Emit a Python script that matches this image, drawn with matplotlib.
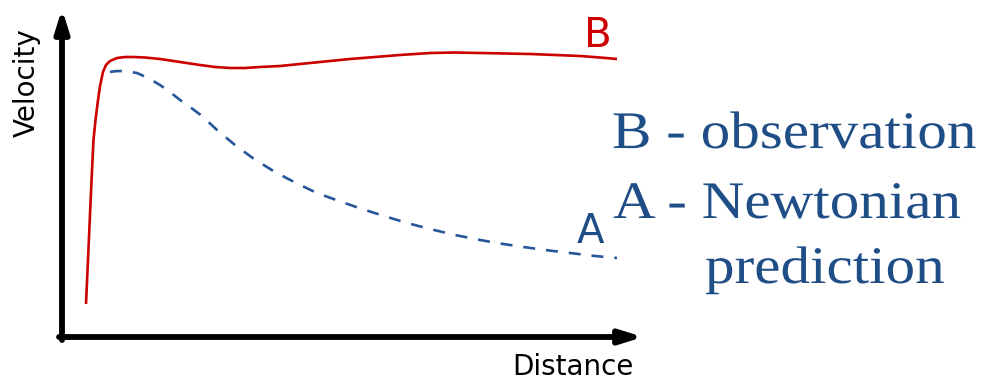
#!/usr/bin/env python3

"""Galaxy rotation curve sketch: observed vs. Newtonian predicted velocity."""

import matplotlib
matplotlib.use("Agg")
from matplotlib import pyplot as plt
from matplotlib import patheffects
from matplotlib.transforms import Affine2D

distance_b = [0.411, 0.445, 0.479, 0.514, 0.539, 0.574, 0.608, 0.651, 0.702, 0.753,
              0.822, 0.942, 1.079, 1.216, 1.421, 1.678, 2.021, 2.363, 2.620, 2.877,
              3.134, 3.390, 3.733, 4.075, 4.503, 4.932, 5.360, 5.788, 6.301, 6.729,
              7.158, 7.586, 8.014, 8.442, 8.870, 9.212, 9.503]
velocity_b = [0.997, 2.326, 3.686, 5.045, 5.952, 6.556, 7.039, 7.583, 8.006, 8.218,
              8.338, 8.429, 8.459, 8.459, 8.444, 8.399, 8.308, 8.218, 8.157, 8.127,
              8.127, 8.157, 8.187, 8.248, 8.323, 8.399, 8.459, 8.520, 8.580, 8.595,
              8.580, 8.565, 8.550, 8.520, 8.489, 8.444, 8.399]

# curve A - Newtonian prediction
distance_a = [0.822, 0.908, 0.993, 1.130, 1.284, 1.473, 1.678, 1.849, 2.021, 2.192,
              2.397, 2.654, 2.962, 3.288, 3.647, 4.007, 4.366, 4.743, 5.137, 5.514,
              5.908, 6.301, 6.729, 7.158, 7.500, 7.842, 8.271, 8.699, 9.127, 9.503]
velocity_a = [8.006, 8.030, 8.036, 8.021, 7.976, 7.825, 7.613, 7.402, 7.160, 6.949,
              6.677, 6.254, 5.801, 5.378, 4.985, 4.653, 4.350, 4.109, 3.867, 3.656,
              3.444, 3.263, 3.082, 2.931, 2.825, 2.734, 2.628, 2.538, 2.447, 2.387]

legend_lines = ["B - observation", "A - Newtonian", "prediction"]

RED = "#cc0000"
BLUE = "#27579a"
TEXT_BLUE = "#1f4e87"

W, H = 990, 382


class Stretch(patheffects.AbstractPathEffect):
    """Stretch text glyphs horizontally (the original slide text is widened)."""

    def __init__(self, sx):
        super().__init__()
        self.sx = sx

    def draw_path(self, renderer, gc, tpath, affine, rgbFace=None):
        renderer.draw_path(gc, tpath, Affine2D().scale(self.sx, 1) + affine, rgbFace)


def px(x, y):
    """pixel position (from top left) -> figure fraction"""
    return x / W, 1 - y / H


plt.rcParams["lines.scale_dashes"] = False

fig = plt.figure(figsize=(W / 100, H / 100), dpi=100)
ax = fig.add_axes([62 / W, 45 / H, 584 / W, 331 / H])
ax.set_xlim(0, 10)
ax.set_ylim(0, 10)
ax.axis("off")

ax.plot(distance_b, velocity_b, color=RED, lw=1.9, solid_joinstyle="round",
        solid_capstyle="butt")
ax.plot(distance_a, velocity_a, color=BLUE, lw=1.9, linestyle=(0, (8.6, 7.9)),
        dash_capstyle="butt", dash_joinstyle="round")

# axis arrows
arrow = dict(arrowstyle="-|>,head_length=1.32,head_width=0.41", mutation_scale=10,
             lw=4.2, color="black", shrinkA=0, shrinkB=0)
ax.annotate("", xy=(0, 1 - 2.8 / 331), xytext=(0, -3 / 331),
            xycoords="axes fraction", arrowprops=arrow)
ax.annotate("", xy=(1 - 2.8 / 584, 0), xytext=(-3 / 584, 0),
            xycoords="axes fraction", arrowprops=arrow)

# axis labels
fig.text(*px(35, 83), "Velocity", fontsize=20, rotation=90,
         rotation_mode="anchor", ha="center", va="baseline")
fig.text(*px(512, 375), "Distance", fontsize=20, ha="left", va="baseline")

# curve labels
fig.text(*px(584, 47), "B", fontsize=29, color=RED, ha="left", va="baseline")
fig.text(*px(577, 243), "A", fontsize=29, color=TEXT_BLUE, ha="left", va="baseline")

# explanation text
serif = dict(family="Liberation Serif", fontsize=38, color=TEXT_BLUE,
             ha="left", va="baseline", path_effects=[Stretch(1.12)])
fig.text(*px(612, 148), legend_lines[0], **serif)
fig.text(*px(613, 218), legend_lines[1], **serif)
fig.text(*px(705, 283), legend_lines[2], **serif)

fig.savefig("out.png", dpi=100)
